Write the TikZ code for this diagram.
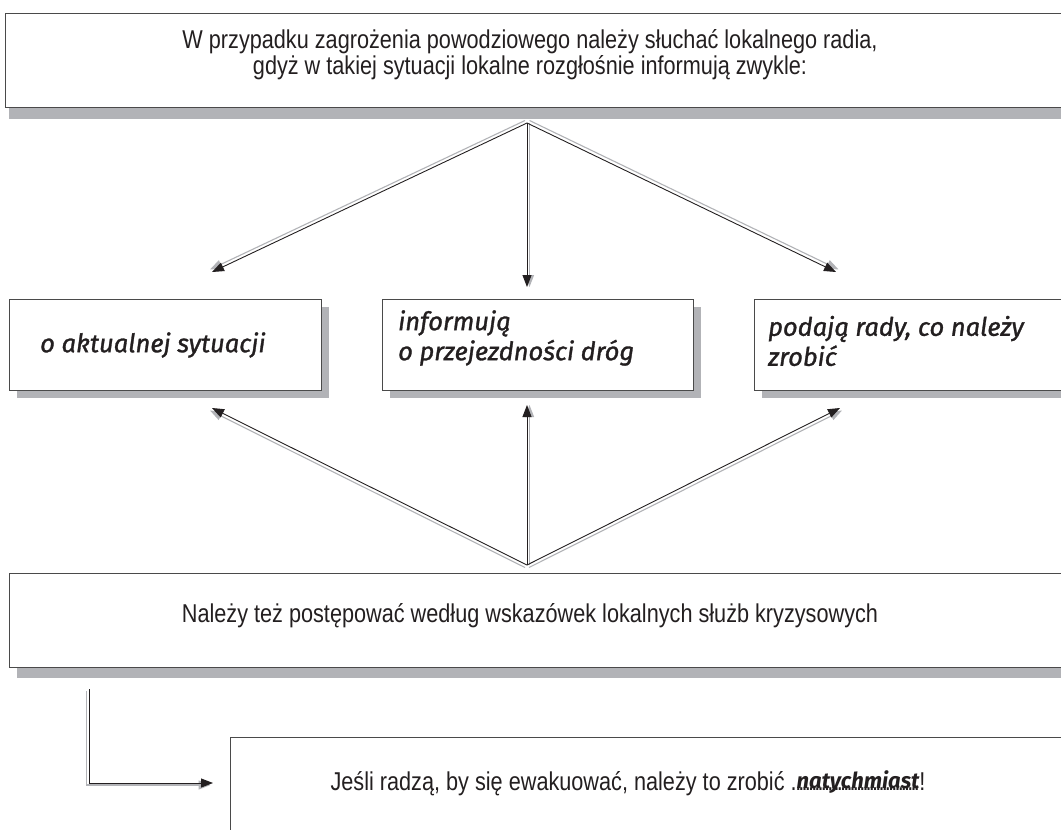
\documentclass[tikz,border=0pt]{standalone}
\usepackage{fontspec}
\setmainfont{Liberation Sans}[FakeStretch=0.84]
\newfontfamily\hand{Fira Sans}[ItalicFeatures={FakeBold=1.2}]
\usetikzlibrary{arrows.meta,shadows}
\definecolor{shd}{HTML}{B2B3B7}
\definecolor{bdr}{HTML}{4A4A4A}
\definecolor{ink}{HTML}{231F20}
\newcommand\dotunder[1]{\setbox0\hbox{#1}\rlap{\hbox to \wd0{\leaders\hbox to 3.2pt{\hss.\hss}\hfill}}\raise2pt\box0}
\tikzset{
 box/.style={draw=bdr, line width=1.4pt, fill=white, inner sep=0pt, anchor=north west},
 conn/.style={draw=ink, line width=0.9pt, -{Triangle[length=12pt,width=9pt]}},
 connshadow/.style={draw=shd, line width=1.1pt, -{Triangle[length=12pt,width=9pt]}},
 maintext/.style={font=\fontsize{25.8}{26}\selectfont, text=ink, align=center, inner sep=0pt},
 handtext/.style={font=\fontsize{25.5}{30}\selectfont\hand\itshape, text=ink, align=left, anchor=west, inner sep=0pt},
}
\begin{document}
\begin{tikzpicture}[x=1pt,y=-1pt]
\clip (0,0) rectangle (1061,830);
\fill[white] (0,0) rectangle (1061,830);
% boxes
\node[box, minimum width=1065, minimum height=94, drop shadow={shadow xshift=3pt, shadow yshift=-11pt, fill=shd, opacity=1}] (top) at (5,13) {};
\node[box, minimum width=312, minimum height=91, drop shadow={shadow xshift=7pt, shadow yshift=-7pt, fill=shd, opacity=1}] (b1) at (9,299) {};
\node[box, minimum width=311, minimum height=91, drop shadow={shadow xshift=7pt, shadow yshift=-7pt, fill=shd, opacity=1}] (b2) at (382,299) {};
\node[box, minimum width=320, minimum height=91, drop shadow={shadow xshift=7pt, shadow yshift=-7pt, fill=shd, opacity=1}] (b3) at (754,299) {};
\node[box, minimum width=1061, minimum height=94, drop shadow={shadow xshift=7pt, shadow yshift=-10pt, fill=shd, opacity=1}] (bot) at (9,573) {};
\node[box, minimum width=900, minimum height=150] (last) at (230,737) {};
% texts
\node[maintext] (tt) at (530,55) {W przypadku zagrożenia powodziowego należy słuchać lokalnego radia,\\gdyż w takiej sytuacji lokalne rozgłośnie informują zwykle:};
\node[maintext] (bt) at (530,616) {Należy też postępować według wskazówek lokalnych służb kryzysowych};
\node[maintext] (lt) at (628,783) {Jeśli radzą, by się ewakuować, należy to zrobić .\dotunder{\fontsize{22}{26}\selectfont\hand\bfseries\itshape natychmiast}!};
\node[handtext] (h1) at (40,345) {o aktualnej sytuacji};
\node[handtext] (h2) at (398,338) {informują\\o przejezdności dróg};
\node[handtext] (h3) at (768,341) {podają rady, co należy\\zrobić};
% connector points
\coordinate (o1) at (527,123);
\coordinate (t1) at (212,272);
\coordinate (t2) at (527,287);
\coordinate (t3) at (836,272);
\coordinate (o2) at (527,565);
\coordinate (u1) at (212,408);
\coordinate (u2) at (527,405);
\coordinate (u3) at (840,408);
\coordinate (l0) at (89,689);
\coordinate (l1) at (213,783);
% connectors
\draw[connshadow, transform canvas={shift={(-2,-2.5)}}] (o1) -- (t1);
\draw[conn] (o1) -- (t1);
\draw[connshadow, transform canvas={shift={(2.5,0)}}] (o1) -- (t2);
\draw[conn] (o1) -- (t2);
\draw[connshadow, transform canvas={shift={(2.5,-2.5)}}] (o1) -- (t3);
\draw[conn] (o1) -- (t3);
\draw[connshadow, transform canvas={shift={(-2,2.5)}}] (o2) -- (u1);
\draw[conn] (o2) -- (u1);
\draw[connshadow, transform canvas={shift={(2.5,0)}}] (o2) -- (u2);
\draw[conn] (o2) -- (u2);
\draw[connshadow, transform canvas={shift={(2,2.5)}}] (o2) -- (u3);
\draw[conn] (o2) -- (u3);
\draw[connshadow, transform canvas={shift={(-2.5,2)}}] (l0) |- (l1);
\draw[conn] (l0) |- (l1);
\end{tikzpicture}
\end{document}
